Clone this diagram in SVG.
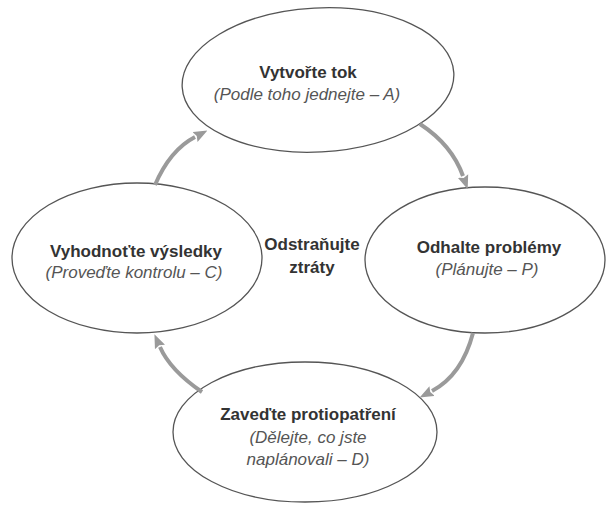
<svg xmlns="http://www.w3.org/2000/svg" width="607" height="505" viewBox="0 0 607 505">
<style>
.node{fill:#fff;stroke:#555;stroke-width:1.3}
.t{font-family:"Liberation Sans",Arial,sans-serif;font-size:17px;text-anchor:middle}
.b{font-weight:bold;fill:#333}
.i{font-style:italic;fill:#555}
.arr{fill:none;stroke:#9a9a9a;stroke-width:4;marker-end:url(#ah)}
</style>
<defs>
<marker id="ah" viewBox="0 -6 14 12" refX="0" refY="0" markerWidth="14" markerHeight="12" markerUnits="userSpaceOnUse" orient="auto">
<path d="M0,-5.5 L14,0 L0,5.5 L2,0 Z" fill="#9a9a9a"/>
</marker>
</defs>
<rect width="607" height="505" fill="#fff"/>
<g id="node-a">
<ellipse class="node" cx="318" cy="80" rx="136" ry="72" transform="rotate(-3 318 80)"/>
<text class="t b" x="308" y="78">Vytvořte tok</text>
<text class="t i" x="307" y="100">(Podle toho jednejte – A)</text>
</g>
<g id="node-p">
<ellipse class="node" cx="485" cy="260" rx="120" ry="73"/>
<text class="t b" x="489" y="253">Odhalte problémy</text>
<text class="t i" x="487" y="275">(Plánujte – P)</text>
</g>
<g id="node-d">
<ellipse class="node" cx="305" cy="432" rx="132" ry="70"/>
<text class="t b" x="308" y="420">Zaveďte protiopatření</text>
<text class="t i" x="308" y="443">(Dělejte, co jste</text>
<text class="t i" x="308" y="465">naplánovali – D)</text>
</g>
<g id="node-c">
<ellipse class="node" cx="137" cy="258" rx="125" ry="75"/>
<text class="t b" x="136" y="257">Vyhodnoťte výsledky</text>
<text class="t i" x="134" y="278">(Proveďte kontrolu – C)</text>
</g>
<g id="center">
<text class="t b" x="312" y="250">Odstraňujte</text>
<text class="t b" x="312" y="273">ztráty</text>
</g>
<g id="connectors">
<path class="arr" d="M420,124 Q452,145 463,176"/>
<path class="arr" d="M473,333 Q462,375 432,391"/>
<path class="arr" d="M202,392 Q170,370 160,347"/>
<path class="arr" d="M155,185 Q170,150 195,137"/>
</g>
</svg>
